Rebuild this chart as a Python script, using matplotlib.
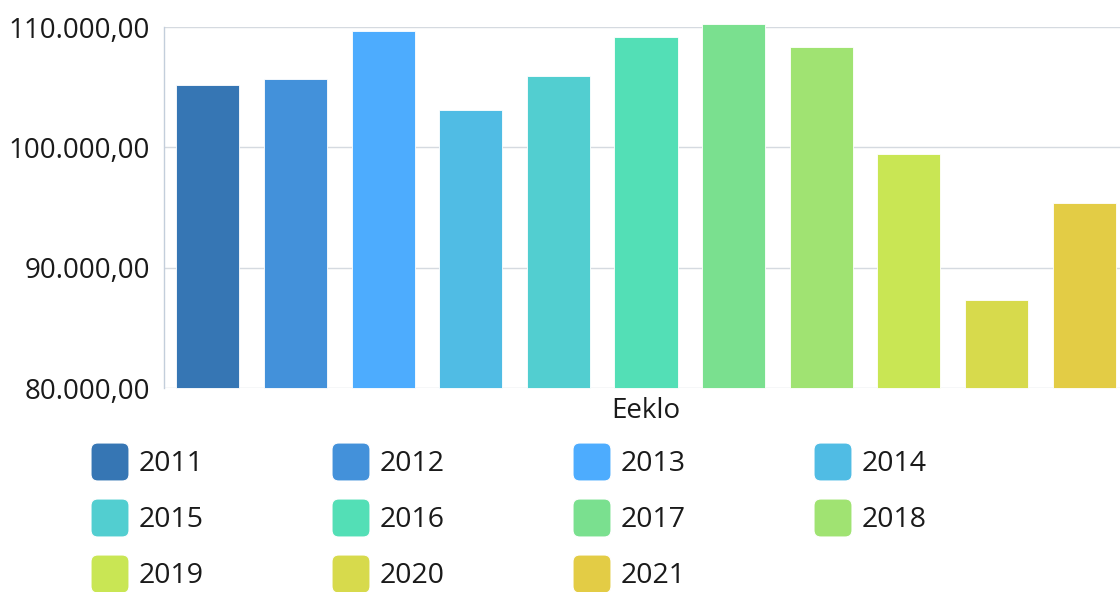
import matplotlib.pyplot as plt
from matplotlib.patches import FancyBboxPatch
from matplotlib.ticker import FuncFormatter

plt.rcParams['font.family'] = ['Open Sans', 'DejaVu Sans']

# Data
years = ['2011', '2012', '2013', '2014', '2015', '2016',
         '2017', '2018', '2019', '2020', '2021']
values = [105190, 105690, 109680, 103110, 105940, 109180,
          110260, 108350, 99450, 87310, 95380]
colors = ['#3676B4', '#4391DA', '#4DACFE', '#50BCE4', '#52CED0', '#53DFB6',
          '#7AE08F', '#A0E372', '#C9E654', '#D7DA4C', '#E3CC45']
category = 'Eeklo'
ymin, ymax = 80000, 110000

W, H = 1120, 592
fig = plt.figure(figsize=(W / 100, H / 100), dpi=100)
ax = fig.add_axes([164 / W, 1 - 388 / H, (1128 - 164) / W, (388 - 27) / H])

x = range(len(years))
# bars start at the axis minimum; clipping off so the tallest may poke above the top
bars = ax.bar(x, [v - ymin for v in values], bottom=ymin, width=0.72,
              color=colors, edgecolor='white', linewidth=0.6, zorder=3)
for b in bars:
    b.set_clip_on(False)
ax.set_xlim(-0.5, len(years) - 0.5)
ax.set_ylim(ymin, ymax)
ax.set_yticks([80000, 90000, 100000, 110000])


def fmt(v, pos):
    s = f'{v:,.2f}'
    return s.replace(',', 'X').replace('.', ',').replace('X', '.')


ax.yaxis.set_major_formatter(FuncFormatter(fmt))
ax.tick_params(axis='y', length=0, pad=10, labelsize=20, labelcolor='#1a1a1a')
ax.set_xticks([])
ax.grid(axis='y', color='#D5DAE0', linewidth=1, zorder=0)
for s in ['top', 'right', 'bottom']:
    ax.spines[s].set_visible(False)
ax.spines['left'].set_color('#C3CEDB')
ax.spines['left'].set_linewidth(1)

fig.text(646 / W, 1 - 411 / H, category, ha='center', va='center',
         fontsize=20, color='#1a1a1a')

# legend drawn by hand: 4 columns, 3 rows
for i, (yr, c) in enumerate(zip(years, colors)):
    col, row = i % 4, i // 4
    px = 91 + col * 241
    py = 462 + row * 56
    box = FancyBboxPatch((px / W, 1 - (py + 19) / H), 38 / W, 38 / H,
                         boxstyle='round,pad=0,rounding_size=0.006',
                         transform=fig.transFigure, facecolor=c,
                         edgecolor='white', linewidth=0.8, mutation_aspect=W / H)
    fig.patches.append(box)
    fig.text((px + 48) / W, 1 - (py + 2) / H, yr, ha='left', va='center',
             fontsize=20.5, color='#1a1a1a')

fig.savefig('out.png', dpi=100)
